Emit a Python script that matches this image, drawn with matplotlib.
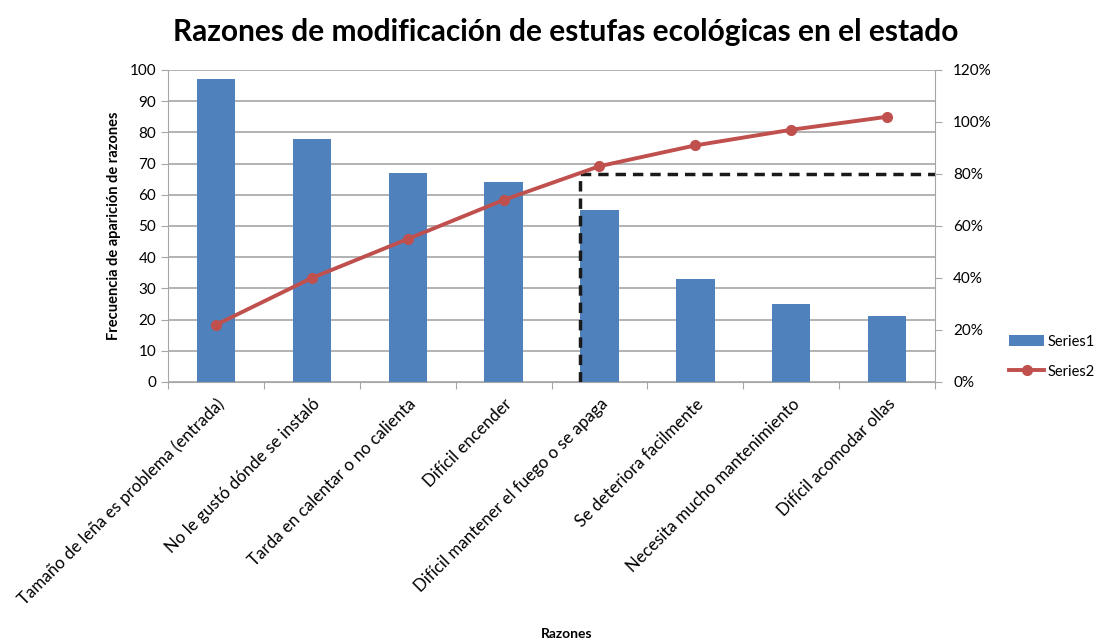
import matplotlib.pyplot as plt
import numpy as np

plt.rcParams['font.family'] = ['Lato', 'DejaVu Sans']

razones = ["Tamaño de leña es problema (entrada)", "No le gustó dónde se instaló",
           "Tarda en calentar o no calienta", "Difícil encender",
           "Difícil mantener el fuego o se apaga", "Se deteriora facilmente",
           "Necesita mucho mantenimiento", "Difícil acomodar ollas"]
frecuencia = [97, 78, 67, 64, 55, 33, 25, 21]
acumulado = [22, 40, 55, 70, 83, 91, 97, 102]  # percent
corte_pct = 80
corte_x = 3.8

azul = "#4F81BD"
rojo = "#C0504D"
gris = "#A6A6A6"

fig = plt.figure(figsize=(11.02, 6.39), dpi=100)
ax = fig.add_axes([0.1525, 0.4022, 0.696, 0.4883])
x = np.arange(len(razones))

ax.bar(x, frecuencia, width=0.4, color=azul, zorder=2, label="Series1")
ax.set_xlim(-0.5, len(razones) - 0.5)
ax.set_ylim(0, 100)
ax.set_yticks(range(0, 101, 10))
ax.yaxis.grid(True, color=gris, linewidth=1.2, zorder=0)
ax.set_axisbelow(True)
ax.set_xticks(np.arange(-0.5, len(razones), 1.0))
ax.set_xticklabels([])
ax.set_xticks(x, minor=True)
ax.set_xticklabels(razones, minor=True, rotation=45, ha="right", va="top",
                   rotation_mode="anchor", fontsize=12.2)
ax.tick_params(axis="x", which="minor", length=0, pad=10)
ax.tick_params(axis="x", which="major", length=5, color=gris)
ax.tick_params(axis="y", length=5, color=gris, labelsize=11)
for s in ["top", "right"]:
    ax.spines[s].set_visible(False)
for s in ["left", "bottom"]:
    ax.spines[s].set_color(gris)
ax.set_ylabel("Frecuencia de aparición de razones", fontsize=10.5, fontweight="bold", labelpad=6)
ax.set_xlabel("Razones", fontsize=10, fontweight="bold")
ax.xaxis.set_label_coords(0.52, -0.79)

ax2 = ax.twinx()
ax2.plot(x, acumulado, color=rojo, linewidth=2.8, marker="o", markersize=7, label="Series2", zorder=3)
ax2.plot([corte_x, corte_x, len(razones) - 0.5], [0, corte_pct, corte_pct], color="#1A1A1A",
         linestyle=(0, (3, 2)), linewidth=2.5, zorder=2)
ax2.set_ylim(0, 120)
ax2.set_yticks(range(0, 121, 20))
ax2.set_yticklabels([f"{v}%" for v in range(0, 121, 20)])
ax2.tick_params(axis="y", length=5, color=gris, labelsize=11, pad=8)
for s in ["top", "left", "bottom"]:
    ax2.spines[s].set_visible(False)
ax2.spines["right"].set_color(gris)

h1, l1 = ax.get_legend_handles_labels()
h2, l2 = ax2.get_legend_handles_labels()
fig.legend(h1 + h2, l1 + l2, loc="center left", bbox_to_anchor=(0.916, 0.442),
           frameon=False, fontsize=10.5, handlelength=2.4, handletextpad=0.2,
           labelspacing=1.1, borderpad=0, borderaxespad=0)

fig.suptitle("Razones de modificación de estufas ecológicas en el estado", x=0.513, y=0.972,
             fontsize=21.5, fontweight="bold")

fig.savefig("out.png", dpi=100)
